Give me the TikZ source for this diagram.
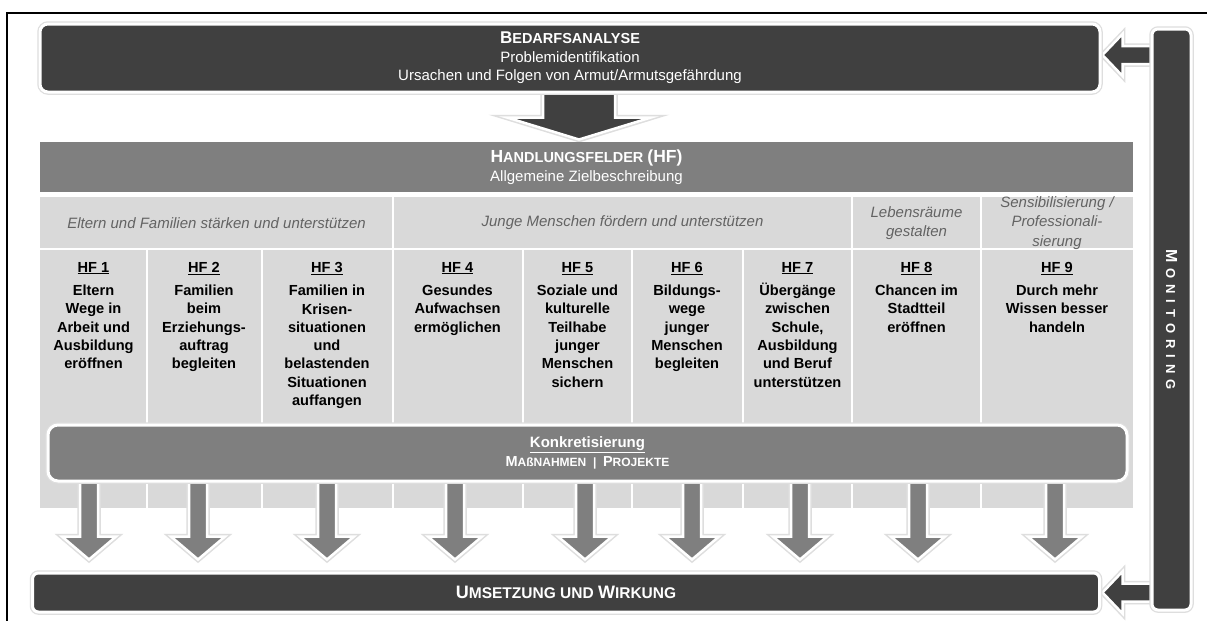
\documentclass[tikz,border=0pt]{standalone}
\usepackage{fontspec}
\setmainfont{Liberation Sans}
\usetikzlibrary{shadows,calc}
\pgfdeclarelayer{back}
\pgfdeclarelayer{bg}
\pgfdeclarelayer{arr}
\pgfsetlayers{back,bg,arr,main}
\definecolor{dk}{HTML}{404040}
\definecolor{md}{HTML}{7F7F7F}
\definecolor{lt}{HTML}{D9D9D9}
\definecolor{catgray}{HTML}{636363}
\newcommand\Fs[2]{{\fontsize{#1}{18}\selectfont #2}}
\newcommand\Lsp{\hspace{6pt}}
\begin{document}
\begin{tikzpicture}[x=1pt,y=-1pt,
  halo/.style={preaction={draw=black!13, line width=5.5pt}},
  shad/.style={drop shadow={opacity=0.15, shadow xshift=0.8pt, shadow yshift=-2.5pt}},
  darkbox/.style={fill=dk, draw=white, line width=3pt, rounded corners=8pt, text=white,
    align=center, inner sep=0pt, shad, halo, font=\fontsize{15}{18.5}\selectfont},
  band/.style={fill=md, text=white, align=center, inner sep=0pt, font=\fontsize{15}{19}\selectfont},
  konkbox/.style={fill=md, draw=white, line width=3pt, rounded corners=10pt, text=white,
    align=center, inner sep=0pt, shad, halo, font=\bfseries\fontsize{15}{19.5}\selectfont},
  cat/.style={text=catgray, align=center, inner sep=0pt, font=\itshape\fontsize{15}{19.5}\selectfont},
  hft/.style={anchor=north, align=center, inner sep=0pt, font=\bfseries\fontsize{14.6}{18.3}\selectfont},
  arrdk/.style={fill=dk, draw=white, line width=2.5pt, line join=miter, shad, halo},
  arrmd/.style={fill=md, draw=white, line width=2.5pt, line join=miter, shad, halo},
  bigarr/.pic={\draw[arrdk] (-36,-8) -- (36,-8) -- (36,24) -- (72,24) -- (0,46) -- (-72,24) -- (-36,24) -- cycle;},
  darr/.pic={\draw[arrmd] (-9,-8) -- (9,-8) -- (9,54) -- (27,54) -- (0,77) -- (-27,54) -- (-9,54) -- cycle;},
  larr/.pic={\draw[arrdk] (4,-9) -- (-28,-9) -- (-28,-21) -- (-48,0) -- (-28,21) -- (-28,9) -- (4,9) -- cycle;}
]
\useasboundingbox (0,0) rectangle (1207,621);
\begin{pgfonlayer}{back}
\fill[white] (0,0) rectangle (1207,621);
\end{pgfonlayer}
% frame
\draw[line width=2pt] (1207,13) -- (7,13) -- (7,621);

% main boxes
\node[darkbox, minimum width=1060pt, minimum height=68pt] (bed) at (570,58)
  {\textbf{\Fs{17}{B}\Fs{14.5}{EDARFSANALYSE}}\\Problemidentifikation\\Ursachen und Folgen von Armut/Armutsgefährdung};
\node[band, minimum width=1093pt, minimum height=50pt] (hf) at (586.5,167)
  {\textbf{\Fs{17.5}{H}\Fs{14.5}{ANDLUNGSFELDER }\Fs{17.5}{(HF)}}\\Allgemeine Zielbeschreibung};
\node[konkbox, minimum width=1079pt, minimum height=56pt] (konk) at (587.5,453)
  {\underline{Konkretisierung}\\\Fs{14.5}{M}\Fs{12}{AßNAHMEN\ \ |\ \ }\Fs{14.5}{P}\Fs{12}{ROJEKTE}};
\node[darkbox, rounded corners=6pt, minimum width=1067pt, minimum height=39pt] (ums) at (566,592.5)
  {\textbf{\Fs{18}{U}\Fs{15.5}{MSETZUNG UND }\Fs{18}{W}\Fs{15.5}{IRKUNG}}};
\node[darkbox, rounded corners=6pt, minimum width=39pt, minimum height=581pt] (mon) at (1171.5,319.5) {};
\node[rotate=-90, text=white, inner sep=0pt, font=\bfseries] (montxt) at (mon.center)
  {\Fs{16}{M}\Lsp\Fs{13}{O\Lsp N\Lsp I\Lsp T\Lsp O\Lsp R\Lsp I\Lsp N\Lsp G}};

% categories
\node[cat] (c1) at (216.5,223) {Eltern und Familien stärken und unterstützen};
\node[cat] (c2) at (622.5,223) {Junge Menschen fördern und unterstützen};
\node[cat] (c3) at (916.5,223) {Lebensräume\\gestalten};
\node[cat] (c4) at (1057,223) {Sensibilisierung /\\Professionali-\\sierung};

% HF texts
\node[hft] (h1) at (93.5,262) {\underline{HF 1}\\[5pt]Eltern\\Wege in\\Arbeit und\\Ausbildung\\eröffnen};
\node[hft] (h2) at (204,262) {\underline{HF 2}\\[5pt]Familien\\beim\\Erziehungs-\\auftrag\\begleiten};
\node[hft] (h3) at (327,262) {\underline{HF 3}\\[5pt]Familien in\\Krisen-\\situationen\\und\\belastenden\\Situationen\\auffangen};
\node[hft] (h4) at (457.5,262) {\underline{HF 4}\\[5pt]Gesundes\\Aufwachsen\\ermöglichen};
\node[hft] (h5) at (577.5,262) {\underline{HF 5}\\[5pt]Soziale und\\kulturelle\\Teilhabe\\junger\\Menschen\\sichern};
\node[hft] (h6) at (687,262) {\underline{HF 6}\\[5pt]Bildungs-\\wege\\junger\\Menschen\\begleiten};
\node[hft] (h7) at (797.5,262) {\underline{HF 7}\\[5pt]Übergänge\\zwischen\\Schule,\\Ausbildung\\und Beruf\\unterstützen};
\node[hft] (h8) at (916.5,262) {\underline{HF 8}\\[5pt]Chancen im\\Stadtteil\\eröffnen};
\node[hft] (h9) at (1057,262) {\underline{HF 9}\\[5pt]Durch mehr\\Wissen besser\\handeln};

% grid
\begin{pgfonlayer}{bg}
\fill[lt] (40,197) rectangle (1133,508);
\draw[white, line width=2.5pt] (40,249) -- (1133,249);
\foreach \x in {393,852,981} \draw[white, line width=2.5pt] (\x,197) -- (\x,508);
\foreach \x in {147,262,523,632,743} \draw[white, line width=2.5pt] (\x,249) -- (\x,508);
\end{pgfonlayer}

% arrows
\begin{pgfonlayer}{arr}
\pic at (579,0 |- bed.south) {bigarr};
\foreach \x in {89,198,327,455,585,692,800,918,1055} \pic at (\x,0 |- konk.south) {darr};
\pic at (mon.west |- 0,55) {larr};
\pic at (mon.west |- ums.east) {larr};
\end{pgfonlayer}
\end{tikzpicture}
\end{document}
